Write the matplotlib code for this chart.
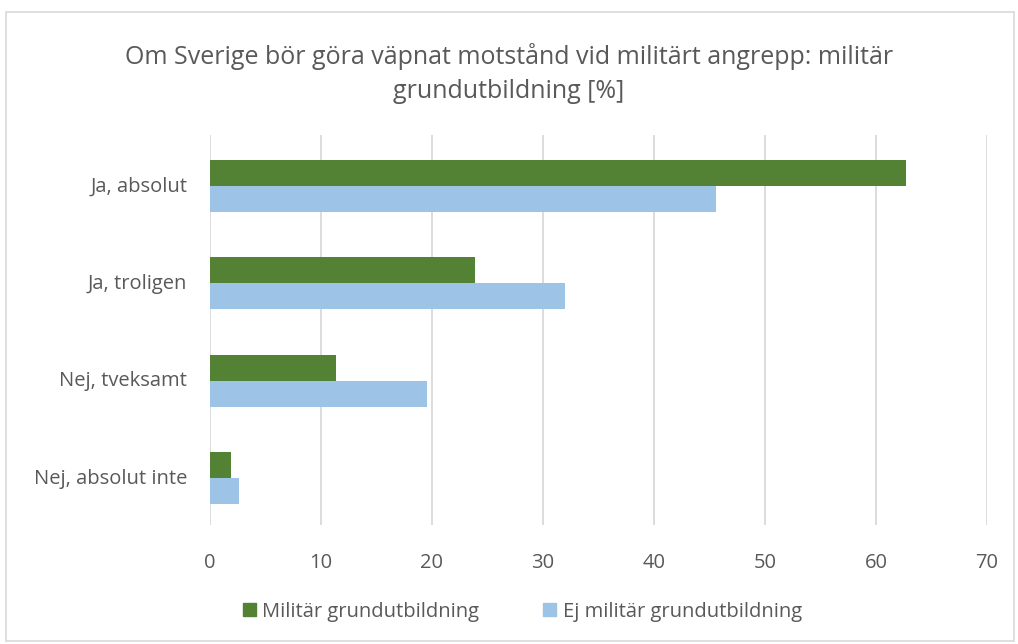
import matplotlib.pyplot as plt
from matplotlib.patches import Rectangle, Patch

categories = ["Ja, absolut", "Ja, troligen", "Nej, tveksamt", "Nej, absolut inte"]
militar = [62.7, 23.9, 11.4, 1.9]
ej_militar = [45.6, 32.0, 19.6, 2.7]
series_names = ["Militär grundutbildning", "Ej militär grundutbildning"]
xticks = [0, 10, 20, 30, 40, 50, 60, 70]

green = "#548235"
blue = "#9DC3E6"
text_col = "#595959"

plt.rcParams['font.family'] = ['Open Sans', 'DejaVu Sans']

fig = plt.figure(figsize=(10.18, 6.44), dpi=100)
ax = fig.add_axes([0.2058, 0.1848, 0.7638, 0.6056])

# outer chart border
fig.patches.append(Rectangle((0.006, 0.004), 0.99, 0.978, transform=fig.transFigure,
                             fill=False, edgecolor="#d9d9d9", linewidth=1.2))

h = 0.265
pos = list(range(len(categories)))
ax.barh([p - h / 2 + 0.02 for p in pos], militar, height=h, color=green, zorder=3)
ax.barh([p + h / 2 + 0.02 for p in pos], ej_militar, height=h, color=blue, zorder=3)

ax.set_ylim(len(categories) - 0.5, -0.5)
ax.set_xlim(0, 70)
ax.set_yticks(pos)
ax.set_yticklabels(categories, fontsize=14.5, color=text_col)
ax.set_xticks(xticks)
ax.set_xticklabels([str(t) for t in xticks], fontsize=14.5, color=text_col)
ax.tick_params(axis="both", length=0)
ax.tick_params(axis="x", pad=20)
ax.tick_params(axis="y", pad=16)
ax.grid(axis="x", color="#d9d9d9", linewidth=1.3, zorder=0)
for s in ax.spines.values():
    s.set_visible(False)

fig.text(0.5, 0.886, "Om Sverige bör göra väpnat motstånd vid militärt angrepp: militär\ngrundutbildning [%]",
         ha="center", va="center", fontsize=18, color=text_col, linespacing=1.45)

handles = [Patch(color=green), Patch(color=blue)]
fig.legend(handles, series_names, loc="center", bbox_to_anchor=(0.513, 0.05), ncol=2,
           frameon=False, fontsize=14.5, labelcolor=text_col, handlelength=0.65, handleheight=0.65,
           handletextpad=0.3, columnspacing=3.2)

fig.savefig("out.png", dpi=100)
